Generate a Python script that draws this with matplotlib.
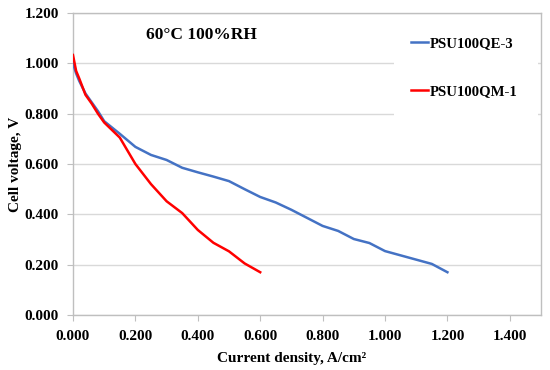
import matplotlib
matplotlib.use("Agg")
import matplotlib.pyplot as plt
from matplotlib.patches import Rectangle

qe_x = [0.0, 0.01, 0.02, 0.04, 0.06, 0.08, 0.10, 0.15, 0.20, 0.25, 0.30, 0.35, 0.40, 0.45,
        0.50, 0.55, 0.60, 0.65, 0.70, 0.75, 0.80, 0.85, 0.90, 0.95, 1.00, 1.05, 1.10, 1.15, 1.20]
qe_v = [1.00, 0.96, 0.93, 0.88, 0.845, 0.81, 0.77, 0.72, 0.668, 0.636, 0.616, 0.585, 0.567, 0.55,
        0.532, 0.50, 0.469, 0.447, 0.418, 0.386, 0.354, 0.334, 0.302, 0.286, 0.254, 0.237, 0.22, 0.203, 0.170]

qm_x = [0.0, 0.01, 0.02, 0.04, 0.06, 0.08, 0.10, 0.15, 0.20, 0.25, 0.30, 0.35, 0.40, 0.45, 0.50, 0.55, 0.60]
qm_v = [1.033, 0.97, 0.94, 0.875, 0.84, 0.80, 0.765, 0.705, 0.60, 0.52, 0.452, 0.405, 0.338, 0.287, 0.253, 0.205, 0.170]

xticks = [0.0, 0.2, 0.4, 0.6, 0.8, 1.0, 1.2, 1.4]
yticks = [0.0, 0.2, 0.4, 0.6, 0.8, 1.0, 1.2]

plt.rcParams['font.family'] = ['Liberation Serif', 'DejaVu Serif']
plt.rcParams['font.weight'] = 'bold'

fig = plt.figure(figsize=(5.5, 3.7), dpi=100)
ax = fig.add_axes([0.1327, 0.1486, 0.851, 0.8163])

ax.plot(qe_x, qe_v, color='#4472C4', lw=1.8, label='PSU100QE-3', zorder=3)
ax.plot(qm_x, qm_v, color='#FF0000', lw=1.8, label='PSU100QM-1', zorder=3)

ax.set_xlim(0, 1.5)
ax.set_ylim(0, 1.2)
ax.set_xticks(xticks)
ax.set_yticks(yticks)
ax.set_xticklabels([f"{t:.3f}" for t in xticks], fontsize=11, fontweight='bold')
ax.set_yticklabels([f"{t:.3f}" for t in yticks], fontsize=11, fontweight='bold')
ax.grid(axis='y', color='#D9D9D9', lw=1)
ax.set_axisbelow(True)
for s in ax.spines.values():
    s.set_color('#BFBFBF')
    s.set_linewidth(1)
ax.tick_params(axis='x', length=4, color='#BFBFBF', pad=7)
ax.tick_params(axis='y', length=4, color='#BFBFBF', pad=6)

ax.set_xlabel('Current density, A/cm²', fontsize=11, fontweight='bold')
ax.xaxis.set_label_coords(0.468, -0.122)
ax.set_ylabel('Cell voltage, V', fontsize=11, fontweight='bold')
ax.yaxis.set_label_coords(-0.108, 0.5)

ax.text(0.413, 1.112, '60°C 100%RH', fontsize=12.5, fontweight='bold', ha='center', va='center')

# white legend background area
ax.add_patch(Rectangle((0.686, 0.58), 0.308, 0.41, transform=ax.transAxes,
                       facecolor='white', edgecolor='none', zorder=1))

leg = ax.legend(loc='upper right', bbox_to_anchor=(0.997, 0.995), frameon=False,
                handlelength=1.1, handletextpad=0.15, labelspacing=2.35,
                borderpad=1.0, prop={'size': 10.6, 'weight': 'bold'})

fig.savefig('out.png', dpi=100)
